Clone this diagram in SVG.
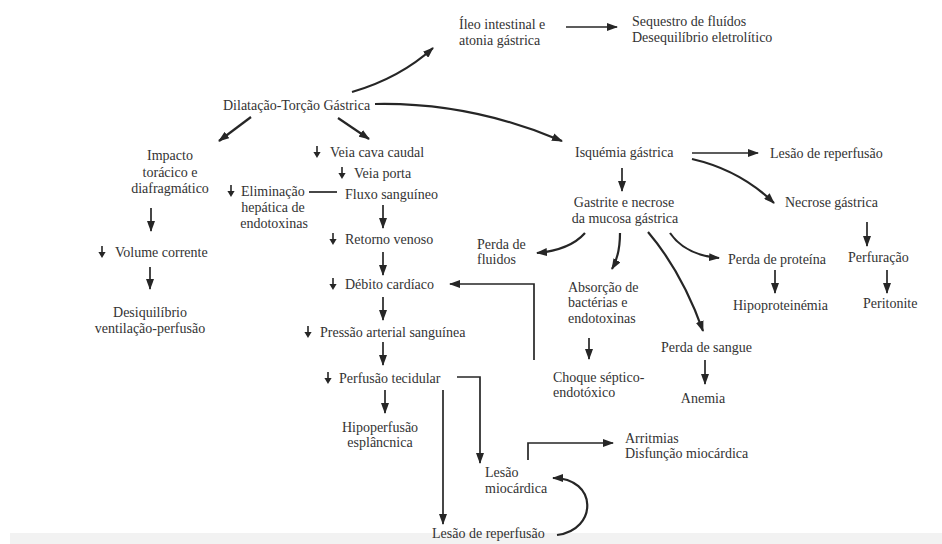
<svg xmlns="http://www.w3.org/2000/svg" xmlns:xlink="http://www.w3.org/1999/xlink" width="942" height="544" viewBox="0 0 942 544">
<defs>
<style>
text{font-family:"Liberation Serif","Times New Roman",serif;font-size:14px;fill:#333333}
.c{text-anchor:middle}
.ln{fill:none;stroke:#262626;stroke-width:1.7;marker-end:url(#ah)}
.cv{fill:none;stroke:#262626;stroke-width:2.2;marker-end:url(#ah)}
.pl{fill:none;stroke:#262626;stroke-width:1.7}
</style>
<marker id="ah" markerUnits="userSpaceOnUse" markerWidth="11" markerHeight="8" refX="10" refY="4" orient="auto">
<path d="M0,0 L11,4 L0,8 z" fill="#262626"/>
</marker>
<g id="dn">
<path d="M0,-6 V1" stroke="#262626" stroke-width="1.6"/>
<path d="M-3.6,0 L3.6,0 L0,6 z" fill="#262626"/>
</g>
</defs>
<rect width="942" height="544" fill="#ffffff"/>
<rect x="10" y="533" width="932" height="11" fill="#f2f2f2"/>

<g id="connectors">
<path class="ln" d="M566,27 H617"/>
<path class="cv" d="M352,92 Q400,78 433,48"/>
<path class="cv" d="M251,117 L219,141"/>
<path class="cv" d="M338,118 L369,139"/>
<path class="cv" d="M375,104 Q470,102 562,141"/>
<path class="ln" d="M151,208 V231"/>
<path class="ln" d="M150,267 V289"/>
<path class="pl" d="M309,192 H337"/>
<path class="ln" d="M383,205 V228"/>
<path class="ln" d="M383,252 V275"/>
<path class="ln" d="M383,297 V320"/>
<path class="ln" d="M383,342 V365"/>
<path class="ln" d="M385,390 V413"/>
<path class="ln" d="M443,390 V524"/>
<path class="ln" d="M457,377 H480 V463"/>
<path class="ln" d="M528,460 V443 H613"/>
<path class="cv" d="M557,535 C598,530 598,478 553,478"/>
<path class="ln" d="M534,360 V284 H450"/>
<path class="ln" d="M692,153 H758"/>
<path class="cv" d="M692,159 Q740,170 774,203"/>
<path class="ln" d="M622,168 V191"/>
<path class="ln" d="M867,222 V246"/>
<path class="cv" d="M585,233 Q570,250 537,253"/>
<path class="cv" d="M620,233 Q620,255 612,269"/>
<path class="cv" d="M648,232 Q682,272 703,331"/>
<path class="cv" d="M670,233 Q685,255 719,258"/>
<path class="ln" d="M589,338 V359"/>
<path class="ln" d="M705,360 V384"/>
<path class="ln" d="M775,270 V293"/>
<path class="ln" d="M887,270 V293"/>
</g>

<g id="n-ileo"><text x="459" y="29">Íleo intestinal e</text><text x="459" y="45">atonia gástrica</text></g>
<g id="n-sequestro"><text x="632" y="26">Sequestro de fluídos</text><text x="632" y="42">Desequilíbrio eletrolítico</text></g>
<g id="n-dilatacao"><text x="223" y="110">Dilatação-Torção Gástrica</text></g>
<g id="n-impacto"><text class="c" x="170" y="160">Impacto</text><text class="c" x="170" y="177">torácico e</text><text class="c" x="170" y="193">diafragmático</text></g>
<g id="n-volume"><use xlink:href="#dn" x="102" y="252"/><text x="115" y="257">Volume corrente</text></g>
<g id="n-desequilibrio"><text class="c" x="150" y="317">Desiquilíbrio</text><text class="c" x="150" y="333">ventilação-perfusão</text></g>
<g id="n-veiacava"><use xlink:href="#dn" x="317" y="152"/><text x="330" y="157">Veia cava caudal</text></g>
<g id="n-veiaporta"><use xlink:href="#dn" x="342" y="173"/><text x="354" y="178">Veia porta</text></g>
<g id="n-fluxo"><text x="345" y="199">Fluxo sanguíneo</text></g>
<g id="n-eliminacao"><use xlink:href="#dn" x="231" y="191"/><text x="241" y="196">Eliminação</text><text class="c" x="273" y="212">hepática de</text><text class="c" x="274" y="228">endotoxinas</text></g>
<g id="n-retorno"><use xlink:href="#dn" x="333" y="239"/><text x="345" y="244">Retorno venoso</text></g>
<g id="n-debito"><use xlink:href="#dn" x="333" y="284"/><text x="345" y="289">Débito cardíaco</text></g>
<g id="n-pressao"><use xlink:href="#dn" x="308" y="332"/><text x="320" y="337">Pressão arterial sanguínea</text></g>
<g id="n-perfusao"><use xlink:href="#dn" x="328" y="378"/><text x="339" y="383">Perfusão tecidular</text></g>
<g id="n-hipoperfusao"><text class="c" x="380" y="432">Hipoperfusão</text><text class="c" x="380" y="447">esplâncnica</text></g>
<g id="n-lesaomio"><text x="485" y="477">Lesão</text><text x="485" y="493">miocárdica</text></g>
<g id="n-lesaorep2"><text x="432" y="538">Lesão de reperfusão</text></g>
<g id="n-arritmias"><text x="625" y="443">Arritmias</text><text x="625" y="458">Disfunção miocárdica</text></g>
<g id="n-isquemia"><text x="575" y="157">Isquémia gástrica</text></g>
<g id="n-lesaorep1"><text x="770" y="158">Lesão de reperfusão</text></g>
<g id="n-necrose"><text x="785" y="207">Necrose gástrica</text></g>
<g id="n-gastrite"><text class="c" x="624" y="207">Gastrite e necrose</text><text class="c" x="625" y="223">da mucosa gástrica</text></g>
<g id="n-fluidos"><text x="477" y="249">Perda de</text><text x="477" y="264">fluidos</text></g>
<g id="n-absorcao"><text x="568" y="292">Absorção de</text><text x="568" y="307">bactérias e</text><text x="568" y="323">endotoxinas</text></g>
<g id="n-choque"><text x="553" y="382">Choque séptico-</text><text x="553" y="397">endotóxico</text></g>
<g id="n-sangue"><text x="661" y="352">Perda de sangue</text></g>
<g id="n-anemia"><text class="c" x="703" y="403">Anemia</text></g>
<g id="n-proteina"><text x="728" y="264">Perda de proteína</text></g>
<g id="n-hipoproteinemia"><text x="733" y="310">Hipoproteinémia</text></g>
<g id="n-perfuracao"><text x="848" y="262">Perfuração</text></g>
<g id="n-peritonite"><text x="863" y="308">Peritonite</text></g>
</svg>
